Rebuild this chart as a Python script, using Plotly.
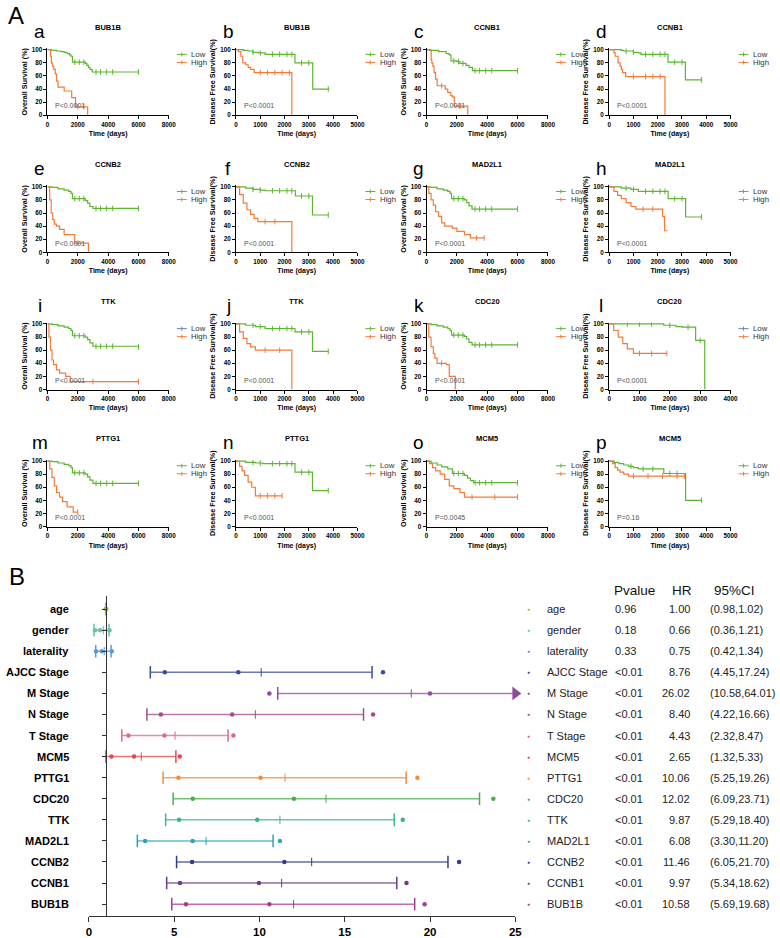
import plotly.graph_objects as go

W, H = 780, 938
FONT = "Liberation Sans, Arial, sans-serif"
GREEN = "#5DB531"
ORANGE = "#F47A3A"

# ---- Panel A: Kaplan-Meier curves ----
PANELS = list("abcdefghijklmnop")
GENES = ["BUB1B", "BUB1B", "CCNB1", "CCNB1", "CCNB2", "CCNB2", "MAD2L1", "MAD2L1",
         "TTK", "TTK", "CDC20", "CDC20", "PTTG1", "PTTG1", "MCM5", "MCM5"]
ENDPOINT = ["OS", "DFS"] * 8
X_MAX = [8000, 5000, 8000, 5000, 8000, 5000, 8000, 5000,
         8000, 5000, 8000, 4000, 8000, 5000, 8000, 5000]
P_TEXT = ["P<0.0001"] * 14 + ["P=0.0045", "P=0.16"]
# the "Low" legend swatch is drawn in blue-grey in panels i and l
LOW_SWATCH = {"i": "#6C7FB8", "l": "#6C7FB8"}

LOW_T = {
    "a": [0, 250, 600, 900, 1100, 1300, 1450, 1550, 1650, 2500, 2600, 2700, 2800, 2950, 6000],
    "b": [0, 300, 500, 700, 900, 1200, 2430, 3160, 3840],
    "c": [0, 200, 800, 1300, 1500, 1610, 2000, 2200, 2600, 2800, 3030, 6000],
    "d": [0, 500, 600, 1000, 1200, 1314, 2425, 3140, 3820],
    "e": [0, 300, 700, 1100, 1400, 1550, 1650, 2500, 2650, 2800, 3000, 6000],
    "f": [0, 400, 700, 1000, 1200, 2450, 3150, 3800],
    "g": [0, 300, 700, 1100, 1400, 1550, 1650, 2500, 2650, 2800, 3000, 6000],
    "h": [0, 500, 900, 1200, 2430, 3150, 3800],
    "i": [0, 300, 700, 1100, 1400, 1550, 1650, 2500, 2650, 2800, 3000, 6000],
    "j": [0, 400, 800, 1200, 2430, 3150, 3800],
    "k": [0, 300, 700, 1100, 1400, 1550, 1650, 2500, 2650, 2800, 3000, 6000],
    "l": [0, 1800, 2200, 2400, 2850, 3150],
    "m": [0, 300, 700, 1100, 1400, 1550, 1650, 2500, 2650, 2800, 3000, 6000],
    "n": [0, 400, 800, 1100, 2430, 3150, 3800],
    "o": [0, 300, 700, 1000, 1400, 1700, 2500, 2700, 2900, 3100, 6000],
    "p": [0, 200, 400, 600, 800, 1000, 1200, 2250, 3150, 3800],
}
LOW_S = {
    "a": [100, 99, 98, 97, 96, 94, 92, 90, 81, 79, 76, 73, 70, 66, 66],
    "b": [100, 99, 98, 96, 95, 93, 80, 40, 40],
    "c": [100, 99, 97, 94, 92, 83, 82, 79, 76, 73, 68, 68],
    "d": [100, 99, 98, 96, 95, 93, 81, 54, 54],
    "e": [100, 99, 97, 95, 93, 90, 82, 79, 75, 70, 67, 67],
    "f": [100, 98, 96, 95, 94, 86, 57, 57],
    "g": [100, 99, 97, 95, 93, 90, 82, 80, 76, 71, 66, 66],
    "h": [100, 98, 96, 93, 82, 54, 54],
    "i": [100, 99, 97, 95, 93, 90, 82, 80, 76, 71, 66, 65],
    "j": [100, 98, 96, 93, 88, 58, 58],
    "k": [100, 99, 97, 95, 93, 90, 83, 81, 77, 72, 68, 68],
    "l": [100, 98, 96, 95, 75, 0],
    "m": [100, 99, 97, 95, 93, 90, 82, 80, 76, 71, 66, 66],
    "n": [100, 98, 97, 96, 83, 55, 55],
    "o": [100, 97, 94, 91, 88, 81, 78, 74, 70, 67, 67],
    "p": [100, 98, 96, 94, 92, 90, 88, 81, 40, 40],
}
HIGH_T = {
    "a": [0, 200, 260, 330, 420, 520, 600, 700, 1100, 1600, 1850, 2650],
    "b": [0, 100, 200, 280, 400, 500, 600, 750, 2300],
    "c": [0, 305, 350, 420, 500, 600, 700, 1240, 1400, 1600, 1700, 1830, 2720],
    "d": [0, 200, 250, 365, 450, 500, 550, 680, 2300],
    "e": [0, 150, 250, 350, 450, 600, 800, 1100, 1800, 2700],
    "f": [0, 150, 300, 450, 600, 750, 900, 2300],
    "g": [0, 150, 300, 450, 600, 800, 1000, 1200, 1700, 2000, 2500, 2900, 3800],
    "h": [0, 200, 350, 500, 700, 900, 1100, 2200, 2280, 2400],
    "i": [0, 100, 200, 300, 400, 600, 800, 1200, 1500, 6000],
    "j": [0, 150, 300, 450, 600, 800, 2300],
    "k": [0, 150, 300, 450, 550, 700, 1300, 1500, 1900],
    "l": [0, 150, 300, 450, 600, 800, 1900],
    "m": [0, 150, 300, 450, 600, 800, 1000, 1300, 1700, 2000],
    "n": [0, 150, 250, 350, 500, 650, 800, 1900],
    "o": [0, 200, 400, 600, 900, 1200, 1500, 1800, 2200, 2500, 6000],
    "p": [0, 150, 250, 350, 450, 600, 800, 3100],
}
HIGH_S = {
    "a": [100, 90, 80, 75, 70, 63, 52, 43, 37, 27, 13, 0],
    "b": [100, 97, 90, 80, 77, 73, 70, 65, 0],
    "c": [100, 85, 80, 75, 65, 55, 45, 40, 35, 30, 28, 14, 0],
    "d": [100, 95, 90, 80, 75, 70, 65, 59, 0],
    "e": [100, 80, 60, 50, 43, 40, 35, 27, 14, 0],
    "f": [100, 88, 75, 65, 58, 52, 47, 0],
    "g": [100, 90, 80, 72, 62, 55, 45, 40, 37, 32, 27, 22, 22],
    "h": [100, 93, 87, 82, 76, 70, 66, 55, 33, 33],
    "i": [100, 80, 60, 45, 38, 30, 25, 20, 12, 12],
    "j": [100, 88, 78, 70, 65, 60, 0],
    "k": [100, 80, 65, 55, 48, 40, 38, 20, 0],
    "l": [100, 90, 80, 70, 62, 55, 55],
    "m": [100, 88, 75, 62, 52, 45, 38, 30, 22, 22],
    "n": [100, 92, 85, 78, 68, 60, 47, 47],
    "o": [100, 96, 90, 85, 80, 72, 62, 58, 52, 45, 45],
    "p": [100, 96, 90, 86, 83, 80, 77, 77],
}
OS_LOW_CENS = [1800, 2100, 2400, 3200, 3500, 3900, 4300, 6000]
DFS_LOW_CENS = [700, 1000, 1500, 1800, 2100, 2300, 2700, 3000, 3800]
LOW_CENS = {p: (OS_LOW_CENS if e == "OS" else DFS_LOW_CENS) for p, e in zip(PANELS, ENDPOINT)}
LOW_CENS["l"] = [600, 1000, 1400, 2000, 2600, 3000]
LOW_CENS["p"] = [900, 1400, 1800, 2500, 2800, 3800]
HIGH_CENS = {
    "a": [2000, 2400], "b": [1000, 1300, 1600, 1900, 2200], "c": [1000, 2200],
    "d": [1000, 1500, 1800, 2100], "e": [2000], "f": [1200, 1600], "g": [3300, 3800],
    "h": [1400, 1800], "i": [3000, 6000], "j": [1200, 1800], "k": [1000],
    "l": [1000, 1400, 1900], "m": [2000], "n": [1000, 1300, 1600, 1900],
    "o": [3000, 4500, 6000], "p": [1000, 1600, 2200, 2800, 3100],
}

# ---- Panel B: forest plot ----
FOREST_LABELS = ["age", "gender", "laterality", "AJCC Stage", "M Stage", "N Stage", "T Stage",
                 "MCM5", "PTTG1", "CDC20", "TTK", "MAD2L1", "CCNB2", "CCNB1", "BUB1B"]
PVALUES = ["0.96", "0.18", "0.33"] + ["<0.01"] * 12
HR = [1.00, 0.66, 0.75, 8.76, 26.02, 8.40, 4.43, 2.65, 10.06, 12.02, 9.87, 6.08, 11.46, 9.97, 10.58]
CI_LO = [0.98, 0.36, 0.42, 4.45, 10.58, 4.22, 2.32, 1.32, 5.25, 6.09, 5.29, 3.30, 6.05, 5.34, 5.69]
CI_HI = [1.02, 1.21, 1.34, 17.24, 64.01, 16.66, 8.47, 5.33, 19.26, 23.71, 18.40, 11.20, 21.70, 18.62, 19.68]
# whisker positions as drawn in the original figure
DRAWN_HR = [1.00, 0.66, 0.75, 8.76, 20.0, 8.40, 4.43, 2.65, 10.06, 12.02, 9.87, 6.08, 11.46, 9.97, 10.58]
BAR_LO = [0.98, 0.30, 0.40, 3.6, 11.07, 3.4, 1.93, 1.0, 4.35, 4.94, 4.5, 2.84, 5.14, 4.56, 4.86]
BAR_MID = [1.0, 0.85, 0.9, 10.1, 18.9, 9.76, 5.05, 3.07, 11.5, 13.9, 11.2, 6.87, 13.06, 11.3, 12.0]
BAR_HI = [1.02, 1.18, 1.3, 16.6, 25.0, 16.1, 8.16, 5.1, 18.6, 22.9, 17.9, 10.8, 21.05, 18.05, 19.1]
COLORS = ["#8DC63F", "#66C2A5", "#5B9BD5", "#3B4C9B", "#8E4D9B", "#A24D8A", "#E0649A", "#E8454F",
          "#F48A3A", "#45B04A", "#3DB58A", "#2BA5B8", "#2E3D8E", "#6B3B8C", "#A23F93"]


def px_x(x):
    return x / W


def px_y(y):
    return 1 - y / H


def step_at(ts, ss, t):
    val = ss[0]
    for ti, si in zip(ts, ss):
        if ti <= t:
            val = si
    return val


def note(text, x, y, size, xanchor="center", xref="paper", yref="paper", color="black", weight="normal"):
    return dict(text=text, x=x, y=y, xref=xref, yref=yref, showarrow=False,
                xanchor=xanchor, yanchor="middle",
                font=dict(size=size, family=FONT, color=color, weight=weight))


COL_X0 = [45, 236, 429, 614]
ROW_Y0 = [114, 252, 390, 528]   # pixel row of y=0
PLOT_W, PLOT_H = 123, 66

fig = go.Figure()
layout = {}
annotations = []
shapes = []
bold = dict(family=FONT, color="black", weight="bold")

for k, p in enumerate(PANELS):
    n = k + 1
    suf = "" if n == 1 else str(n)
    row, col = divmod(k, 4)
    x0 = COL_X0[col]
    yb = ROW_Y0[row]
    yt = yb - PLOT_H * 1.02
    layout["xaxis" + suf] = dict(
        domain=[px_x(x0), px_x(x0 + PLOT_W)], range=[0, X_MAX[k]], anchor="y" + suf,
        showline=True, linecolor="black", linewidth=1, ticks="outside", ticklen=3,
        tickcolor="black", dtick=2000 if X_MAX[k] == 8000 else 1000,
        tickfont=dict(size=6.3, **bold), showgrid=False, zeroline=False,
        title=dict(text="Time (days)", font=dict(size=7, **bold), standoff=4))
    layout["yaxis" + suf] = dict(
        domain=[px_y(yb), px_y(yt)], range=[0, 102], anchor="x" + suf,
        showline=True, linecolor="black", linewidth=1, ticks="outside", ticklen=3,
        tickcolor="black", tickvals=[0, 20, 40, 60, 80, 100],
        tickfont=dict(size=6.3, **bold), showgrid=False, zeroline=False,
        title=dict(text="Overall Survival (%)" if ENDPOINT[k] == "OS" else "Disease Free Survival(%)",
                   font=dict(size=7.2, **bold), standoff=3))

    for ts, ss, cens, color in [(LOW_T[p], LOW_S[p], LOW_CENS[p], GREEN),
                                (HIGH_T[p], HIGH_S[p], HIGH_CENS[p], ORANGE)]:
        fig.add_trace(go.Scatter(x=ts, y=ss, mode="lines", line=dict(color=color, width=1.2, shape="hv"),
                                 xaxis="x" + suf, yaxis="y" + suf, showlegend=False, hoverinfo="skip"))
        cens = [c for c in cens if c <= ts[-1]]
        fig.add_trace(go.Scatter(x=cens, y=[step_at(ts, ss, c) for c in cens], mode="markers",
                                 marker=dict(symbol="line-ns", size=4, line=dict(color=color, width=1)),
                                 xaxis="x" + suf, yaxis="y" + suf, showlegend=False, hoverinfo="skip"))

    xd, yd = "x" + suf + " domain", "y" + suf + " domain"
    # gene title and panel letter
    annotations.append(note(GENES[k], px_x(x0 + PLOT_W / 2), px_y(yt - 21), 7.5, weight="bold"))
    annotations.append(note(p, px_x(x0 - 8), px_y(yt - 17), 19))
    annotations.append(note(P_TEXT[k], 0.05, 0.14, 7, xanchor="left", xref=xd, yref=yd, color="#555"))
    # legend
    for lab, color, ly in [("Low", LOW_SWATCH.get(p, GREEN), 0.91), ("High", ORANGE, 0.79)]:
        shapes.append(dict(type="line", xref=xd, yref=yd, x0=1.066, x1=1.148, y0=ly, y1=ly,
                           line=dict(color=color, width=1)))
        shapes.append(dict(type="line", xref=xd, yref=yd, x0=1.107, x1=1.107, y0=ly - 0.03, y1=ly + 0.03,
                           line=dict(color=color, width=1)))
        annotations.append(note(lab, 1.17, ly, 7.8, xanchor="left", xref=xd, yref=yd, color="#333"))

# ---- forest plot axes ----
ROW0, ROW_STEP = 611, 21.21
fx = "17"
layout["xaxis" + fx] = dict(
    domain=[px_x(87), px_x(519)], range=[0, 25], anchor="y" + fx, tickvals=[0, 5, 10, 15, 20, 25],
    showline=True, linecolor="#333", linewidth=1.3, ticks="outside", ticklen=5, tickcolor="#333",
    tickfont=dict(size=11.5, **bold), showgrid=False, zeroline=False)
layout["yaxis" + fx] = dict(
    domain=[px_y(920), px_y(598)], range=[(920 - ROW0) / ROW_STEP, -(ROW0 - 598) / ROW_STEP],
    anchor="free", position=px_x(104), tickvals=list(range(len(FOREST_LABELS))),
    showticklabels=False, showline=True, linecolor="#333", linewidth=1.3, ticks="outside",
    ticklen=4, tickcolor="#333", showgrid=False, zeroline=False)

for i, lab in enumerate(FOREST_LABELS):
    c = COLORS[i]
    fig.add_trace(go.Scatter(x=[BAR_LO[i], BAR_HI[i]], y=[i, i], mode="lines",
                             line=dict(color=c, width=1.5), opacity=0.75,
                             xaxis="x" + fx, yaxis="y" + fx, showlegend=False, hoverinfo="skip"))
    caps = [BAR_LO[i], BAR_HI[i]] if BAR_HI[i] < 25 else [BAR_LO[i]]
    fig.add_trace(go.Scatter(x=caps, y=[i] * len(caps), mode="markers",
                             marker=dict(symbol="line-ns", size=9, line=dict(color=c, width=1.5)),
                             xaxis="x" + fx, yaxis="y" + fx, showlegend=False, hoverinfo="skip"))
    fig.add_trace(go.Scatter(x=[BAR_MID[i]], y=[i], mode="markers",
                             marker=dict(symbol="line-ns", size=6, line=dict(color=c, width=1)),
                             xaxis="x" + fx, yaxis="y" + fx, showlegend=False, hoverinfo="skip"))
    dots = [v for v in [CI_LO[i], DRAWN_HR[i], CI_HI[i]] if v <= 25]
    fig.add_trace(go.Scatter(x=dots, y=[i] * len(dots), mode="markers",
                             marker=dict(symbol="circle", size=4.5, color=c),
                             xaxis="x" + fx, yaxis="y" + fx, showlegend=False, hoverinfo="skip"))
    if BAR_HI[i] >= 25:
        fig.add_trace(go.Scatter(x=[BAR_HI[i]], y=[i], mode="markers", cliponaxis=False,
                                 marker=dict(symbol="triangle-right", size=12, color=c),
                                 xaxis="x" + fx, yaxis="y" + fx, showlegend=False, hoverinfo="skip"))

    ry = px_y(ROW0 + i * ROW_STEP)
    # row label on the left
    annotations.append(note(lab, px_x(69), ry, 11, xanchor="right", weight="bold"))
    # table on the right
    annotations.append(note("●", px_x(532), ry, 5, color=c))
    annotations.append(note(lab, px_x(549), ry, 11, xanchor="left", color="#222"))
    annotations.append(note(PVALUES[i], px_x(618), ry, 11, xanchor="left", color="#222"))
    annotations.append(note(f"{HR[i]:.2f}", px_x(698), ry, 11, xanchor="right", color="#222"))
    annotations.append(note(f"({CI_LO[i]:.2f},{CI_HI[i]:.2f})", px_x(714), ry, 11, xanchor="left",
                            color="#222"))

annotations += [
    note("Pvalue", px_x(617), px_y(592), 13.5, xanchor="left", color="#111"),
    note("HR", px_x(688), px_y(592), 13.5, color="#111"),
    note("95%CI", px_x(741), px_y(592), 13.5, color="#111"),
    note("A", px_x(13), px_y(14), 24),
    note("B", px_x(14), px_y(578), 24),
]

fig.update_layout(
    width=W, height=H, margin=dict(l=0, r=0, t=0, b=0),
    paper_bgcolor="white", plot_bgcolor="white", showlegend=False,
    font=dict(family=FONT), annotations=annotations, shapes=shapes, **layout)

fig.write_html("out.html", config={"displayModeBar": False},
               post_script="document.body.style.margin='0px';")
